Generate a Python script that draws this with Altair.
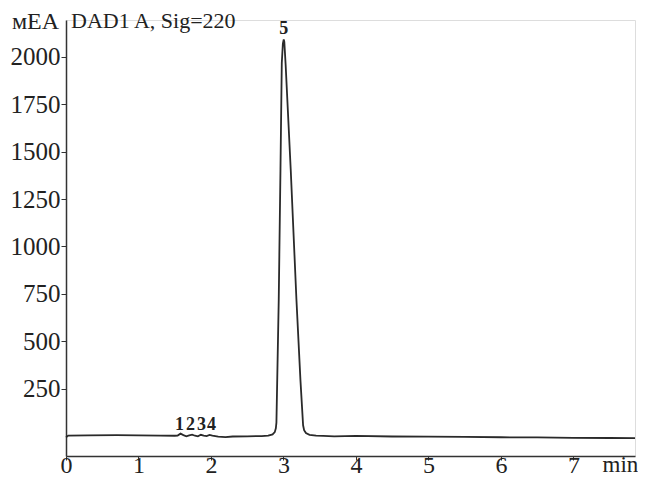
import altair as alt
import pandas as pd

# Chromatogram trace (time, min ; signal, mAU)
time = [0.00, 0.03, 0.30, 0.70, 1.00, 1.30, 1.50, 1.54, 1.58, 1.62, 1.66, 1.70,
        1.74, 1.78, 1.82, 1.86, 1.90, 1.94, 1.98, 2.02, 2.10, 2.20, 2.30, 2.50,
        2.70, 2.79, 2.85, 2.88, 2.895, 2.903, 2.935, 2.959, 2.977, 2.992, 3.004,
        3.012, 3.03, 3.10, 3.179, 3.234, 3.271, 3.285, 3.31, 3.36, 3.45, 3.55,
        3.70, 4.00, 4.50, 5.00, 5.50, 6.00, 6.50, 7.00, 7.50, 7.85]
signal = [-8, 2, 3, 4, 3, 2, 1, 2, 12, 4, -2, 3,
          7, 1, -2, 6, 1, -1, 5, 1, -4, -6, -3, -2,
          -1, 1, 8, 20, 40, 70, 720, 1409, 1968, 2070, 2092,
          2080, 1960, 1409, 720, 297, 56, 30, 15, 6, 1, 0,
          -2, 0, -3, -4, -5, -7, -8, -10, -11, -12]

# Peak labels
peak_ids = ["1", "2", "3", "4", "5"]
peak_rt = [1.566, 1.717, 1.869, 2.007, 3.004]
label_y = [30, 30, 30, 30, 2120]

x_ticks = [0, 1, 2, 3, 4, 5, 6, 7]
y_ticks = [250, 500, 750, 1000, 1250, 1500, 1750, 2000]

trace = pd.DataFrame({"t": time, "v": signal})
peaks = pd.DataFrame({"id": peak_ids, "t": peak_rt, "v": label_y})

FONT = "Liberation Serif"
INK = "#222222"

xs = alt.Scale(domain=[0, 7.85], nice=False, zero=False)
ys = alt.Scale(domain=[-106, 2195], nice=False, zero=False)

line = alt.Chart(trace).mark_line(color="#2a2a2a", strokeWidth=1.8).encode(
    x=alt.X("t:Q", scale=xs,
            axis=alt.Axis(values=x_ticks, format="d", grid=False, tickSize=4,
                          labelFontSize=24, labelFont=FONT, labelColor=INK,
                          labelPadding=-7, domainColor="#333333", domainWidth=1.5,
                          tickColor="#333333", labelFlush=False,
                          title="min", titleFont=FONT, titleFontSize=23,
                          titleFontWeight="normal", titleColor=INK,
                          titleX=536, titleY=15, titleAlign="left",
                          titleBaseline="alphabetic")),
    y=alt.Y("v:Q", scale=ys,
            axis=alt.Axis(values=y_ticks, format="d", grid=False, tickSize=5,
                          labelFontSize=25, labelFont=FONT, labelColor=INK,
                          labelPadding=1, domainColor="#333333", domainWidth=1.5,
                          tickColor="#333333", labelFlush=False,
                          title="мЕА", titleFont=FONT, titleFontSize=24,
                          titleFontWeight="normal", titleColor=INK, titleAngle=0,
                          titleX=-31, titleY=8, titleAlign="center",
                          titleBaseline="alphabetic")),
)

labels = alt.Chart(peaks).mark_text(font=FONT, fontSize=18, fontWeight="bold",
                                    color=INK, baseline="alphabetic", align="center").encode(
    x=alt.X("t:Q", scale=xs),
    y=alt.Y("v:Q", scale=ys),
    text="id:N",
)

header = alt.Chart(pd.DataFrame({"txt": ["DAD1 A, Sig=220"]})).mark_text(
    font=FONT, fontSize=22, color=INK, align="left", baseline="alphabetic").encode(
    x=alt.value(5), y=alt.value(8), text="txt:N")

chart = alt.layer(line, labels, header).properties(
    width=569, height=436,
    autosize=alt.AutoSizeParams(type="none"),
    padding={"left": 58, "top": 12, "right": 3, "bottom": 22},
).configure_view(stroke=None).configure(background="white")

chart.save("out.html", embed_options={"renderer": "svg", "actions": False})
